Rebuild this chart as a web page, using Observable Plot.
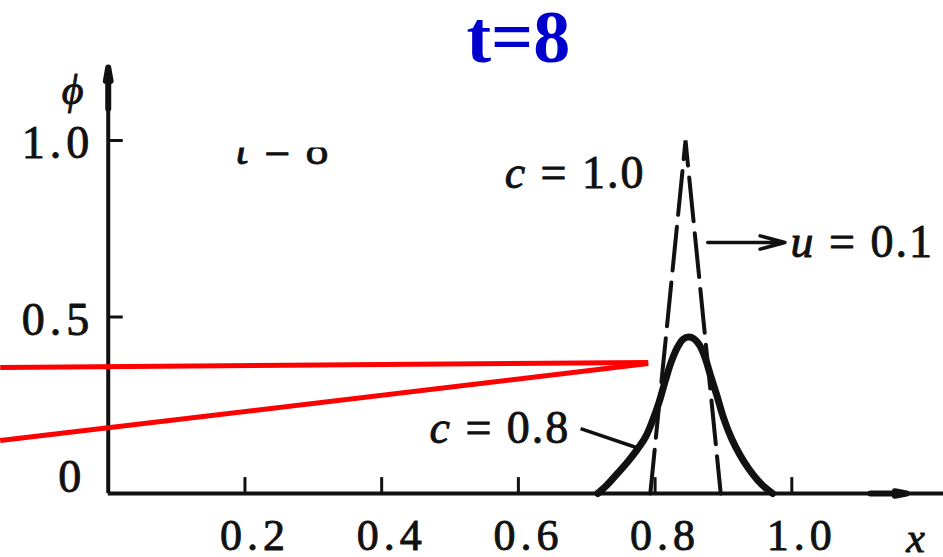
<!DOCTYPE html>
<html><head><meta charset="utf-8">
<script src="https://cdn.jsdelivr.net/npm/d3@7"></script>
<script src="https://cdn.jsdelivr.net/npm/@observablehq/plot@0.6"></script>
<style>
html,body{margin:0;padding:0;background:#fff;}
svg{display:block;}
</style></head><body><div id="chart"></div>
<script>
// ---- data ----
const titleText = ["t=8"];
const xTicks = [0.2, 0.4, 0.6, 0.8, 1.0];
const xTickLabels = ["0.2", "0.4", "0.6", "0.8", "1.0"];
const yTicks = [0, 0.5, 1.0];
const yTickLabels = ["0", "0.5", "1.0"];
// c = 1.0 (dashed) profile
const dashX = [0.793, 0.8445, 0.896];
const dashY = [0, 1.0, 0];
// c = 0.8 (solid) profile
const solidX = [0.716, 0.730, 0.745, 0.760, 0.774, 0.786, 0.796, 0.806, 0.815, 0.824, 0.833, 0.841, 0.849, 0.857, 0.865, 0.873, 0.881, 0.890, 0.900, 0.912, 0.924, 0.937, 0.950, 0.962, 0.972];
const solidY = [0.000, 0.025, 0.057, 0.090, 0.125, 0.160, 0.205, 0.260, 0.320, 0.375, 0.415, 0.437, 0.443, 0.438, 0.420, 0.385, 0.335, 0.280, 0.215, 0.155, 0.110, 0.070, 0.038, 0.015, 0.000];
// annotation labels (data coordinates)
const annoText = ["c = 1.0", "u = 0.1", "c = 0.8"];
const annoX = [0.786, 0.998, 0.676];
const annoY = [0.907, 0.711, 0.184];
const annoAnchor = ["end", "start", "end"];
// partly cut "t = 8" in the scan
const cutText = ["t = 8"];
const cutX = [0.256];
const cutY = [0.975];
// u arrow and c=0.8 leader
const uArrowX = [0.877, 0.990];
const uArrowY = [0.711, 0.711];
const leaderX = [0.691, 0.779];
const leaderY = [0.184, 0.126];
// red overlay lines
const redX1 = [-0.158, -0.158];
const redY1 = [0.357, 0.150];
const redX2 = [0.790, 0.790];
const redY2 = [0.371, 0.368];
// axes extents
const xAxisEnd = 1.222;
const yAxisEnd = 1.207;
const axisLabels = ["ϕ", "x"];
const axisLabelX = [-0.052, 1.181];
const axisLabelY = [1.142, -0.128];

const solid = solidX.map((x, i) => ({x, y: solidY[i]}));
const dashed = dashX.map((x, i) => ({x, y: dashY[i]}));
const annos = annoText.map((t, i) => ({t, x: annoX[i], y: annoY[i], a: annoAnchor[i]}));
const reds = redX1.map((x1, i) => ({x1, y1: redY1[i], x2: redX2[i], y2: redY2[i]}));
const ink = "#111";
const serif = "Liberation Serif";
const txt = {fontFamily: serif, fill: ink, stroke: ink, strokeWidth: 0.9};

const svg = Plot.plot({
  width: 943, height: 557, margin: 0,
  x: {domain: [-0.1576, 1.2219], axis: null},
  y: {domain: [-0.1813, 1.3966], axis: null},
  style: {background: "#fff", fontFamily: serif, overflow: "visible"},
  marks: [
    // axes
    Plot.ruleY([0], {x1: 0, x2: xAxisEnd, stroke: ink, strokeWidth: 4}),
    Plot.ruleX([0], {y1: 0, y2: yAxisEnd, stroke: ink, strokeWidth: 4}),
    Plot.arrow([0], {x1: 1.115, x2: 1.168, y1: 0, y2: 0, stroke: ink, strokeWidth: 6, headAngle: 22, headLength: 28}),
    Plot.arrow([0], {x1: 0, x2: 0, y1: 1.09, y2: 1.207, stroke: ink, strokeWidth: 6, headAngle: 20, headLength: 36}),
    Plot.ruleX(xTicks, {x: d => d, y1: 0, y2: 0.045, stroke: ink, strokeWidth: 3}),
    Plot.ruleY(yTicks.filter(v => v > 0), {y: d => d, x1: 0, x2: 0.022, stroke: ink, strokeWidth: 3}),
    Plot.text(xTicks, {x: d => d, y: 0, text: (d, i) => xTickLabels[i], dy: 42, dx: 10, fontSize: 44, textAnchor: "middle", ...txt}),
    Plot.text(yTicks.filter(v => v > 0), {x: 0, y: d => d, text: d => yTickLabels[yTicks.indexOf(d)], dx: -14, dy: 3, fontSize: 46, textAnchor: "end", ...txt}),
    Plot.text([yTicks[0]], {x: 0, y: d => d, text: d => yTickLabels[0], dx: -22, dy: -16, fontSize: 46, textAnchor: "end", ...txt}),
    Plot.text(axisLabels, {x: (d, i) => axisLabelX[i], y: (d, i) => axisLabelY[i], text: d => d, fontSize: 42, fontStyle: "italic", ...txt}),
    // curves
    Plot.line(dashed, {x: "x", y: "y", stroke: ink, strokeWidth: 4, strokeDasharray: "44,12", strokeLinejoin: "miter"}),
    Plot.line(solid, {x: "x", y: "y", stroke: ink, strokeWidth: 7, curve: "catmull-rom"}),
    // annotations
    Plot.arrow([0], {x1: uArrowX[0], x2: uArrowX[1], y1: uArrowY[0], y2: uArrowY[1], stroke: ink, strokeWidth: 3.5, headAngle: 30, headLength: 22}),
    Plot.link([0], {x1: leaderX[0], x2: leaderX[1], y1: leaderY[0], y2: leaderY[1], stroke: ink, strokeWidth: 3.5}),
    Plot.text(annos.filter(d => d.a === "end"), {x: "x", y: "y", text: "t", textAnchor: "end", fontSize: 46, ...txt}),
    Plot.text(annos.filter(d => d.a === "start"), {x: "x", y: "y", text: "t", textAnchor: "start", fontSize: 46, ...txt}),
    Plot.text(cutText, {x: cutX, y: cutY, text: d => d, fontSize: 46, ...txt}),
    // red overlay
    Plot.link(reds, {x1: "x1", y1: "y1", x2: "x2", y2: "y2", stroke: "#ff0000", strokeWidth: 5}),
    // title
    Plot.text(titleText, {x: 0.600, y: 1.290, text: d => d, fontFamily: serif, fontSize: 74, fontWeight: "bold", fill: "#0000cc"})
  ]
});
document.getElementById("chart").append(svg);

// typographic touch-ups: italic variables, letter spacing, clip the cut-off label
const s = d3.select(svg);
s.selectAll("text").each(function() {
  const el = d3.select(this);
  const t = this.textContent;
  if (/^[0-9.]+$/.test(t)) el.style("letter-spacing", "5px");
  const m = t.match(/^([cut])( = .*)$/);
  if (m) {
    el.text(null).style("letter-spacing", "2px");
    el.append("tspan").attr("font-style", "italic").text(m[1]);
    el.append("tspan").text(m[2]);
  }
  if (t === "t = 8") {
    s.append("defs").append("clipPath").attr("id", "cutclip")
      .attr("clipPathUnits", "userSpaceOnUse")
      .append("rect").attr("x", 0).attr("y", 147).attr("width", 943).attr("height", 60);
    d3.select(this.parentNode).attr("clip-path", "url(#cutclip)");
  }
});
</script></body></html>
